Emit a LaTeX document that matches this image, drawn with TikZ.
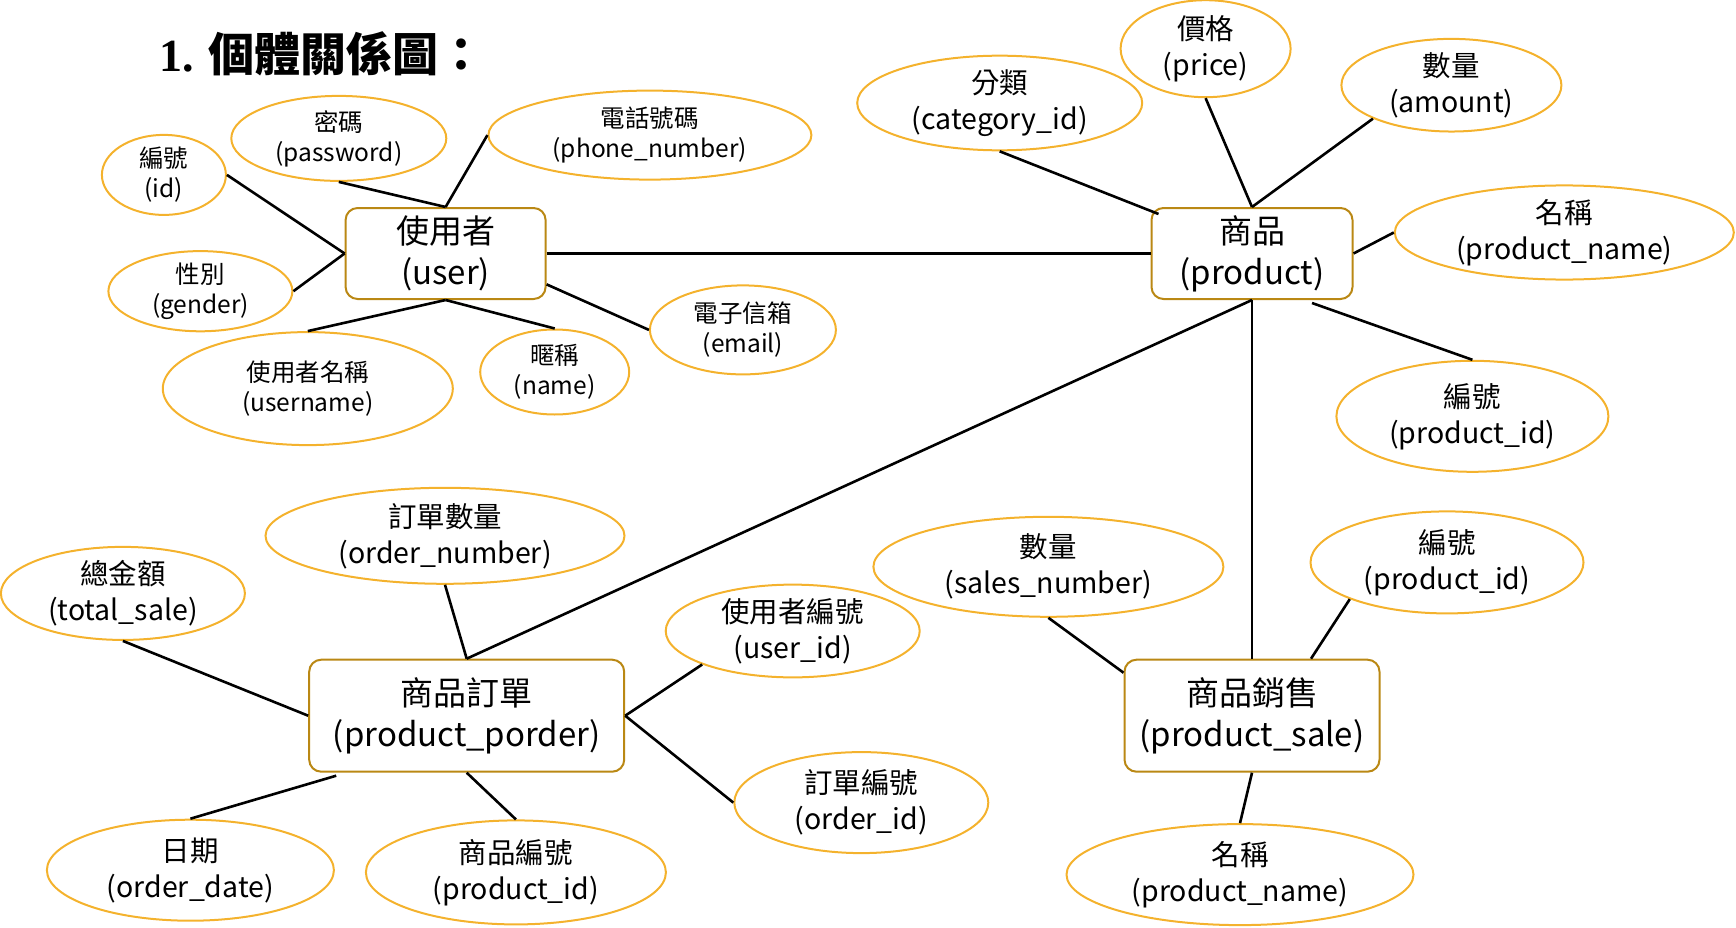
\documentclass[tikz,border=0pt]{standalone}
\usepackage{fontspec}
\setmainfont{Noto Sans CJK TC}
\newfontfamily\numfont{Liberation Serif}
\usepackage{tikz}
\usetikzlibrary{calc}
\usetikzlibrary{shapes.geometric}
\usetikzlibrary{positioning}

\definecolor{boxgold}{RGB}{186,136,20}
\definecolor{attrorange}{RGB}{244,178,45}

\begin{document}
\begin{tikzpicture}[x=1pt,y=-1pt,
        entity/.style={draw=boxgold,line width=2pt,rounded corners=12pt,fill=white,
            align=center,inner sep=0pt,font=\fontsize{33}{41}\selectfont},
        attr/.style={ellipse,draw=attrorange,line width=2pt,inner sep=0pt,
            align=center,font=\fontsize{28.5}{36}\selectfont},
        uattr/.style={attr,font=\fontsize{24.5}{30}\selectfont},
        link/.style={line width=2.6pt,black}]
        \useasboundingbox (0,0) rectangle (1736,928);
        \node[anchor=west,font=\fontsize{46}{50}\selectfont\bfseries] (title) at (156,54) {{\numfont 1.} 個體關係圖：};
        % entities
        \node[entity,minimum width=200pt,minimum height=91pt] (user) at (445.6,253.5) {使用者\\(user)};
        \node[entity,minimum width=201pt,minimum height=91pt] (product) at (1252,253.5) {商品\\(product)};
        \node[entity,minimum width=315pt,minimum height=112pt] (porder) at (466.7,715.7) {商品訂單\\(product\_porder)};
        \node[entity,minimum width=255pt,minimum height=112pt] (sale) at (1252,715.7) {商品銷售\\(product\_sale)};
        % user attributes
        \node[uattr,minimum width=124pt,minimum height=80pt] (uid) at (163.9,174.9) {編號\\(id)};
        \node[uattr,minimum width=215pt,minimum height=85pt] (upass) at (338.8,138.4) {密碼\\(password)};
        \node[uattr,minimum width=323pt,minimum height=89pt] (uphone) at (649.9,135.1) {電話號碼\\(phone\_number)};
        \node[uattr,minimum width=184pt,minimum height=75pt] (ugender) at (200.4,291.2) {性別\\(gender)};
        \node[uattr,minimum width=290pt,minimum height=113pt] (uname) at (307.8,388.6) {使用者名稱\\(username)};
        \node[uattr,minimum width=149pt,minimum height=85pt] (unick) at (554.7,372) {暱稱\\(name)};
        \node[uattr,minimum width=186pt,minimum height=89pt] (umail) at (742.9,329.9) {電子信箱\\(email)};
        % product attributes
        \node[attr,minimum width=285pt,minimum height=89pt] (pcat) at (999.7,103) {分類\\(category\_id)};
        \node[attr,minimum width=170pt,minimum height=97pt] (pprice) at (1205.6,48.7) {價格\\(price)};
        \node[attr,minimum width=220pt,minimum height=89pt] (pamount) at (1451.4,85.2) {數量\\(amount)};
        \node[attr,minimum width=339pt,minimum height=93pt] (pname) at (1564.3,232.5) {名稱\\(product\_name)};
        \node[attr,minimum width=272pt,minimum height=111pt] (pid) at (1472.4,416.3) {編號\\(product\_id)};
        % order attributes
        \node[attr,minimum width=359pt,minimum height=96pt] (onum) at (445,535.8) {訂單數量\\(order\_number)};
        \node[attr,minimum width=244pt,minimum height=86pt] (ototal) at (122.9,593.4) {總金額\\(total\_sale)};
        \node[attr,minimum width=254pt,minimum height=85pt] (ouser) at (792.7,631) {使用者編號\\(user\_id)};
        \node[attr,minimum width=254pt,minimum height=101pt] (oid) at (861.3,802.6) {訂單編號\\(order\_id)};
        \node[attr,minimum width=287pt,minimum height=101pt] (odate) at (190.4,870.2) {日期\\(order\_date)};
        \node[attr,minimum width=300pt,minimum height=104pt] (oprod) at (515.9,872.4) {商品編號\\(product\_id)};
        % sale attributes
        \node[attr,minimum width=350pt,minimum height=100pt] (snum) at (1048.4,566.8) {數量\\(sales\_number)};
        \node[attr,minimum width=273pt,minimum height=102pt] (sid) at (1447,562.4) {編號\\(product\_id)};
        \node[attr,minimum width=347pt,minimum height=101pt] (sname) at (1240,874.6) {名稱\\(product\_name)};
        % links
        \draw[link] (uid.east) -- (user.west);
        \draw[link] (ugender.east) -- (user.west);
        \draw[link] (upass.south) -- (user.north);
        \draw[link] (uphone.west) -- (user.north);
        \draw[link] (uname.north) -- (user.south);
        \draw[link] (unick.north) -- (user.south);
        \draw[link] (umail.west) -- (user.-17);
        \draw[link] (user.east) -- (product.west);
        \draw[link] (pcat.south) -- ($(product.north west)+(8,7)$);
        \draw[link] (pprice.south) -- (product.north);
        \draw[link] (pamount.south west) -- (product.north);
        \draw[link] (pname.west) -- (product.east);
        \draw[link] (pid.north) -- ($(product.south)+(60,3)$);
        \draw[link] (product.south) -- (porder.north);
        \draw[link] (product.south) -- (sale.north);
        \draw[link] (onum.south) -- (porder.north);
        \draw[link] (ototal.south) -- (porder.west);
        \draw[link] (ouser.south west) -- (porder.east);
        \draw[link] (oid.west) -- (porder.east);
        \draw[link] (odate.north) -- ($(porder.south west)+(28,3)$);
        \draw[link] (oprod.north) -- (porder.south);
        \draw[link] (snum.south) -- ($(sale.north west)+(0,14)$);
        \draw[link] (sid.south west) -- ($(sale.north)+(59,0)$);
        \draw[link] (sname.north) -- (sale.south);
    \end{tikzpicture}
\end{document}
